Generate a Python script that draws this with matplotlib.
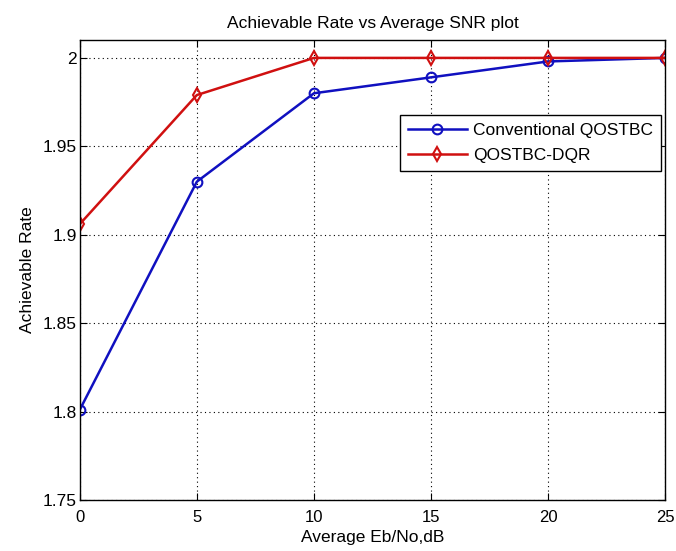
import numpy as np
import matplotlib.pyplot as plt

plt.rcParams['font.family'] = ['Liberation Sans', 'DejaVu Sans']

snr = [0, 5, 10, 15, 20, 25]
conv_rate = [1.801, 1.930, 1.980, 1.989, 1.998, 2.000]
dqr_rate = [1.906, 1.979, 2.000, 2.000, 2.000, 2.000]

fs = 12.5

fig = plt.figure(figsize=(6.76, 5.51), dpi=100)
ax = fig.add_axes([0.118, 0.0926, 0.866, 0.8344])

ax.plot(snr, conv_rate, color='#1010c0', marker='o', markersize=7,
        markerfacecolor='none', markeredgewidth=1.5, linewidth=1.8,
        label='Conventional QOSTBC')
ax.plot(snr, dqr_rate, color='#d01010', marker='d', markersize=7.5,
        markerfacecolor='none', markeredgewidth=1.5, linewidth=1.8,
        label='QOSTBC-DQR')

ax.set_xlim(0, 25)
ax.set_ylim(1.75, 2.01)
ax.set_xticks(np.arange(0, 26, 5))
ax.set_yticks([1.75, 1.8, 1.85, 1.9, 1.95, 2.0])
ax.set_yticklabels(['1.75', '1.8', '1.85', '1.9', '1.95', '2'])

ax.grid(True, linestyle=(0, (1, 3)), color='black', linewidth=0.8)
ax.tick_params(direction='in', top=True, right=True, labelsize=fs, length=5)
ax.tick_params(axis='x', pad=7, labelsize=12)
ax.tick_params(axis='y', pad=2)
for s in ax.spines.values():
    s.set_linewidth(1.0)

ax.set_xlabel('Average Eb/No,dB', fontsize=fs, labelpad=4)
ax.set_ylabel('Achievable Rate', fontsize=fs, labelpad=6)
ax.set_title('Achievable Rate vs Average SNR plot', fontsize=fs, pad=9)

leg = ax.legend(loc='upper left', bbox_to_anchor=(0.547, 0.837), fontsize=fs,
                fancybox=False, framealpha=1, edgecolor='black',
                handlelength=3.4, borderpad=0.45, labelspacing=0.55,
                handletextpad=0.35, borderaxespad=0)
leg.get_frame().set_linewidth(1.0)

fig.savefig('out.png', dpi=100)
